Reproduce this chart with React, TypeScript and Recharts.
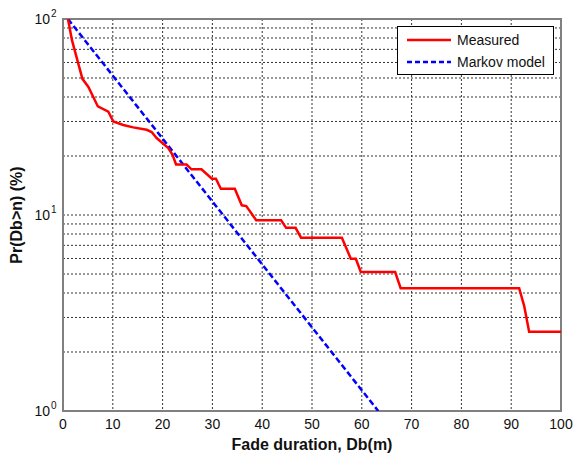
import React from 'react'
import {
  LineChart,
  Line,
  XAxis,
  YAxis,
  CartesianGrid,
  ReferenceArea,
} from 'recharts'

// measured fade duration distribution
const measuredDuration = [1, 1.8, 3.9, 5.1, 7, 9.1, 10.1, 12.1, 14.1, 16.8, 17.8, 18.8, 21.1, 22, 22.7, 24.8, 25.8, 27.8, 29.9, 30.7, 31.7, 34.5, 35.9, 36.8, 38.8, 43.8, 44.8, 46.7, 47.8, 56, 57.8, 58.8, 59.8, 66.7, 67.8, 91.6, 92.6, 93.6, 100]
const measuredPct = [100, 78, 49.5, 45, 35.8, 33.7, 30, 28.8, 28, 27.2, 26.5, 24.7, 22, 20.3, 18.1, 18.1, 17.1, 17.1, 15.3, 15.3, 13.6, 13.6, 11.2, 11.1, 9.4, 9.4, 8.6, 8.6, 7.66, 7.66, 5.98, 5.98, 5.12, 5.12, 4.23, 4.23, 3.44, 2.54, 2.54]

// Markov model is a straight line on the log axis
const markovDuration = [1, 63.3]
const markovPct = [100, 1]

const xTicks = [0, 10, 20, 30, 40, 50, 60, 70, 80, 90, 100]
const yTicks = [1, 2, 3, 4, 5, 6, 7, 8, 9, 10, 20, 30, 40, 50, 60, 70, 80, 90, 100]
const decadeTicks = [1, 10, 100]

const measured = measuredDuration.map((x, i) => ({ x, y: measuredPct[i] }))
const markov = markovDuration.map((x, i) => ({ x, y: markovPct[i] }))

const FONT = '"Liberation Sans", Arial, sans-serif'

function YTick({ x, y, payload }: any) {
  const v = payload.value
  if (!decadeTicks.includes(v)) return null
  const exp = Math.round(Math.log10(v))
  return (
    <g>
      <text x={x - 5} y={y + 5} textAnchor="end" fontSize={14} fontFamily={FONT} fill="#111">
        10
      </text>
      <text x={x - 4} y={y - 2} textAnchor="start" fontSize={10} fontFamily={FONT} fill="#111">
        {exp}
      </text>
    </g>
  )
}

function LegendBox() {
  return (
    <div
      style={{
        position: 'absolute',
        left: 397,
        top: 26,
        width: 157,
        height: 49,
        border: '1px solid #000',
        background: '#fff',
        boxSizing: 'border-box',
      }}
    >
      <svg width={155} height={47} style={{ display: 'block' }}>
        <line x1={9} x2={53} y1={13} y2={13} stroke="#ff0000" strokeWidth={2.5} />
        <text x={59} y={18} fontSize={14} fontFamily={FONT} fill="#111">Measured</text>
        <line x1={9} x2={53} y1={35} y2={35} stroke="#0000ff" strokeWidth={2.5} strokeDasharray="5 3" />
        <text x={59} y={40} fontSize={14} fontFamily={FONT} fill="#111">Markov model</text>
      </svg>
    </div>
  )
}

export default function App() {
  return (
    <div style={{ position: 'absolute', left: 0, top: 0, width: 573, height: 457, background: '#fff' }}>
      <LineChart width={573} height={457} margin={{ top: 19, right: 12, left: 0, bottom: 0 }}>
        <CartesianGrid stroke="#333" strokeDasharray="2 2" strokeWidth={1} />
        <XAxis
          type="number"
          dataKey="x"
          domain={[0, 100]}
          ticks={xTicks}
          allowDataOverflow
          height={46}
          tickLine={false}
          axisLine={false}
          tick={{ fontSize: 14, fontFamily: FONT, fill: '#111' }}
          label={{
            value: 'Fade duration, Db(m)',
            position: 'insideBottom',
            offset: 7,
            style: { fontSize: 16, fontWeight: 'bold', fontFamily: FONT, fill: '#111' },
          }}
        />
        <YAxis
          type="number"
          dataKey="y"
          scale="log"
          domain={[1, 100]}
          ticks={yTicks}
          allowDataOverflow
          interval={0}
          width={63}
          tickLine={false}
          axisLine={false}
          tick={<YTick />}
          label={{
            value: 'Pr(Db>n) (%)',
            angle: -90,
            position: 'insideLeft',
            offset: 16,
            style: { fontSize: 16, fontWeight: 'bold', fontFamily: FONT, fill: '#111', textAnchor: 'middle' },
          }}
        />
        <ReferenceArea x1={0} x2={100} y1={1} y2={100} fill="none" stroke="#808080" strokeWidth={2} />
        <Line
          data={markov}
          dataKey="y"
          name="Markov model"
          stroke="#0000ff"
          strokeWidth={2.5}
          strokeDasharray="6 3"
          dot={false}
          isAnimationActive={false}
        />
        <Line
          data={measured}
          dataKey="y"
          name="Measured"
          stroke="#ff0000"
          strokeWidth={2.5}
          dot={false}
          isAnimationActive={false}
        />
      </LineChart>
      <LegendBox />
    </div>
  )
}
